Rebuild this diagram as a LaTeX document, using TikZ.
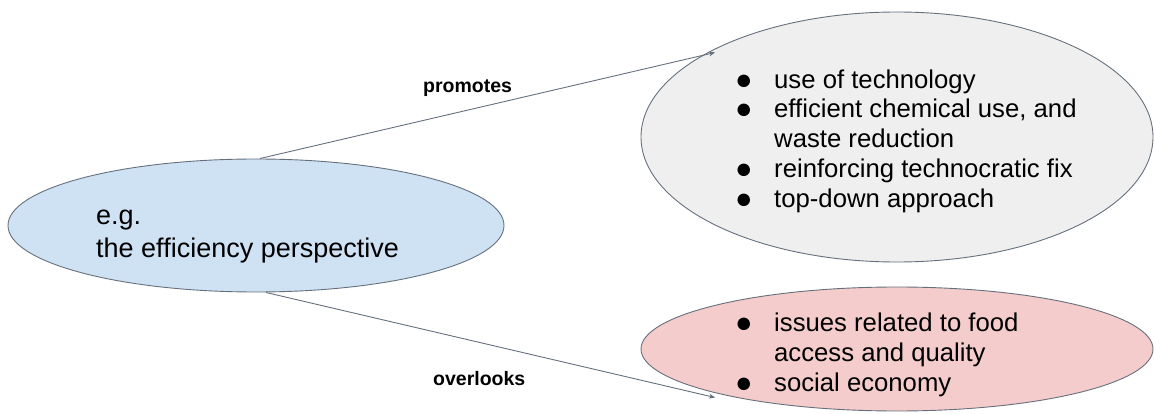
\documentclass[tikz,border=0pt]{standalone}
\usepackage{fontspec}
\setmainfont{Liberation Sans}
\usetikzlibrary{shapes.geometric,arrows.meta}
\definecolor{blueF}{HTML}{CFE2F3}
\definecolor{greyF}{HTML}{EFEFEF}
\definecolor{pinkF}{HTML}{F4CCCC}
\definecolor{edge}{HTML}{66707C}
\tikzset{
  oval/.style={ellipse,draw=edge,line width=0.9pt,inner sep=0pt},
  conn/.style={draw=edge,line width=0.9pt,-{Stealth[length=6pt,width=5pt]}},
  lbl/.style={font=\fontsize{19.5}{22}\selectfont\bfseries,anchor=base west,inner sep=0pt},
  big/.style={font=\fontsize{27}{31}\selectfont,anchor=base west,inner sep=0pt},
  item/.style={font=\fontsize{25.7}{29.6}\selectfont,anchor=base west,inner sep=0pt}
}
\newcommand{\bul}{\makebox[37pt][l]{\hspace{-2pt}\raisebox{-1pt}{\fontsize{29}{29}\selectfont ●}}}
\begin{document}
\begin{tikzpicture}[x=1pt,y=-1pt]
\useasboundingbox (0,0) rectangle (1154,414);
\node[oval,fill=blueF,minimum width=496pt,minimum height=133pt] (L) at (256,225.5) {};
\node[oval,fill=greyF,minimum width=512pt,minimum height=250pt] (T) at (897,137) {};
\node[oval,fill=pinkF,minimum width=512pt,minimum height=124pt] (B) at (897,349) {};
\coordinate (tEnd) at (715,52.5);
\coordinate (bEnd) at (715,397.5);
\coordinate (tStart) at (260,158.5);
\coordinate (bStart) at (266,292.5);
\draw[conn] (tStart) -- (tEnd);
\draw[conn] (bStart) -- (bEnd);
\node[lbl] (p) at (423,93) {promotes};
\node[lbl] (o) at (433,385) {overlooks};
\node[big] (l1) at (96,225) {e.g.};
\node[big] (l2) at (96,258) {the efficiency perspective};
\node[item] (t1) at (737,88.3) {\bul use of technology};
\node[item] (t2) at (737,118) {\bul efficient chemical use, and};
\node[item] (t3) at (737,148) {\makebox[37pt]{}waste reduction};
\node[item] (t4) at (737,178) {\bul reinforcing technocratic fix};
\node[item] (t5) at (737,207.5) {\bul top-down approach};
\node[item] (b1) at (737,331.7) {\bul issues related to food};
\node[item] (b2) at (737,361.7) {\makebox[37pt]{}access and quality};
\node[item] (b3) at (737,391.7) {\bul social economy};
\end{tikzpicture}
\end{document}
